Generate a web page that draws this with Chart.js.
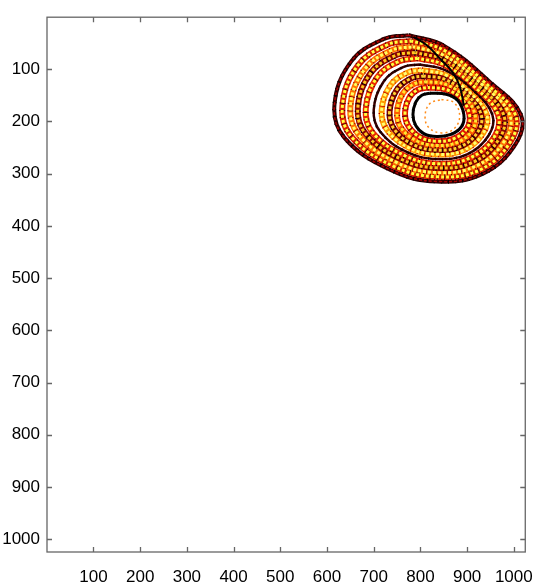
<!DOCTYPE html>
<html>
<head>
<meta charset="utf-8">
<script src="https://cdn.jsdelivr.net/npm/chart.js@4.4.1/dist/chart.umd.min.js"></script>
<style>
html, body { margin: 0; padding: 0; background: #fff; }
#wrap { width: 548px; height: 587px; position: relative; }
</style>
</head>
<body>
<div id="wrap"><canvas id="myChart"></canvas></div>
<script>
var xTicks = [100, 200, 300, 400, 500, 600, 700, 800, 900, 1000];
var yTicks = [100, 200, 300, 400, 500, 600, 700, 800, 900, 1000];

// bands of the attractor, from the ring round the hole out to the edge (x, y in pixels of the image)
var ring0 = [[820,146],[855,148],[880,160],[893,187],[888,210],[865,225],[835,229],[808,224],[790,208],[784,187],[790,163],[803,150]];
var ring1 = [[816,135],[855,139],[887,156],[905,187],[900,213],[872,233],[835,238],[801,231],[775,210],[767,185],[776,155],[795,139]];
var ring2 = [[811,124],[854,129],[894,153],[917,187],[911,217],[879,240],[835,246],[794,238],[759,213],[750,183],[762,147],[787,128]];
var ring3 = [[807,113],[854,120],[900,149],[930,187],[923,220],[886,248],[835,255],[786,245],[744,215],[734,181],[749,140],[779,118]];
var ring4 = [[802,102],[853,111],[907,146],[942,187],[934,223],[893,255],[835,263],[779,252],[729,217],[717,179],[735,132],[771,107]];
var ring5 = [[798,91],[853,102],[914,142],[954,187],[946,227],[900,263],[835,272],[772,259],[714,220],[700,178],[721,124],[763,96]];
var ring6 = [[793,79],[852,92],[921,138],[966,187],[958,230],[906,270],[835,281],[765,265],[698,222],[683,176],[707,116],[754,85]];
var ring7 = [[789,68],[852,83],[928,135],[978,187],[969,233],[913,278],[835,289],[758,272],[683,224],[666,174],[693,108],[746,74]];
var ring8 = [[784,57],[851,74],[934,131],[991,187],[981,236],[920,285],[835,298],[750,279],[668,226],[650,172],[680,101],[738,64]];
var ring9 = [[780,46],[851,64],[941,128],[1003,187],[992,240],[927,293],[835,306],[743,286],[652,229],[633,170],[666,93],[730,53]];
var ring10 = [[775,35],[850,55],[948,124],[1015,187],[1004,243],[934,300],[835,315],[736,293],[637,231],[616,168],[652,85],[722,42]];
var holeRing = [[845,158],[872,164],[884,190],[872,214],[845,222],[818,212],[810,190],[820,166]];
var foldLine = [[785,38],[815,55],[842,80],[870,107],[885,135],[893,170]];

var rings = [ring0, ring1, ring2, ring3, ring4, ring5, ring6, ring7, ring8, ring9, ring10];

// hot colormap look: base colour and width of each band, colours of the speckles on top
var baseColors = ['#000000', '#e01800', '#ff5a00', '#7a0000', '#ff9800', '#400000', '#e82800', '#8b0400', '#ff7000', '#d82000', '#300000'];
var baseWidths = [3, 6, 6, 6, 6, 2.5, 6, 6, 6, 6, 4];
var speckColors = ['#000000', '#ffff40', '#ffe830', '#ffd030', '#ffff70', '#200000', '#ffff40', '#ffc820', '#ffff60', '#ffff40', '#b00000'];
var darkSpecks = ['#000000', '#500000', '#800000', '#000000', '#c00000', '#000000', '#500000', '#000000', '#900000', '#4a0000', '#000000'];

function pts(r, close) {
  var out = r.map(function (p) { return { x: p[0], y: p[1] }; });
  if (close) out.push({ x: r[0][0], y: r[0][1] });
  return out;
}

var datasets = [];
rings.forEach(function (r, i) {
  datasets.push({
    data: pts(r, true),
    borderColor: baseColors[i],
    borderWidth: baseWidths[i],
    order: 4
  });
  datasets.push({
    data: pts(r, true),
    borderColor: darkSpecks[i],
    borderWidth: baseWidths[i],
    borderDash: [1, 6],
    order: 3
  });
  datasets.push({
    data: pts(r, true),
    borderColor: speckColors[i],
    borderWidth: Math.max(1.5, baseWidths[i] - 3),
    borderDash: [3, 2],
    borderDashOffset: 1,
    order: 2
  });
});
datasets.push({
  data: pts(holeRing, true),
  borderColor: '#ff8c1a',
  borderWidth: 1.5,
  borderDash: [2, 3],
  order: 1
});
datasets.push({
  data: pts(foldLine, false),
  borderColor: '#000000',
  borderWidth: 2,
  order: 0
});
datasets.forEach(function (d) {
  d.showLine = true;
  d.pointRadius = 0;
  d.tension = 0.4;
  d.fill = false;
});

// box round the plot with inward ticks on all four sides
var boxTicks = {
  id: 'boxTicks',
  afterDraw: function (chart) {
    var c = chart.ctx, a = chart.chartArea, sx = chart.scales.x, sy = chart.scales.y;
    c.save();
    c.strokeStyle = '#666666';
    c.lineWidth = 1.3;
    c.strokeRect(a.left, a.top, a.right - a.left, a.bottom - a.top);
    c.beginPath();
    xTicks.forEach(function (v) {
      var p = Math.round(sx.getPixelForValue(v)) + 0.5;
      c.moveTo(p, a.bottom); c.lineTo(p, a.bottom - 5);
      c.moveTo(p, a.top); c.lineTo(p, a.top + 5);
    });
    yTicks.forEach(function (v) {
      var p = Math.round(sy.getPixelForValue(v)) + 0.5;
      c.moveTo(a.left, p); c.lineTo(a.left + 5, p);
      c.moveTo(a.right, p); c.lineTo(a.right - 5, p);
    });
    c.stroke();
    c.restore();
  }
};

var tickFont = { family: '"Liberation Sans", Arial, sans-serif', size: 17 };

var myChart = new Chart(document.getElementById('myChart'), {
  type: 'scatter',
  data: { datasets: datasets },
  options: {
    responsive: true,
    maintainAspectRatio: false,
    animation: false,
    layout: { padding: { top: 7, right: 11, left: 0, bottom: 0 } },
    plugins: { legend: { display: false }, tooltip: { enabled: false } },
    scales: {
      x: {
        type: 'linear',
        min: 0.5,
        max: 1024.5,
        grid: { display: false, drawTicks: false },
        border: { display: false },
        ticks: {
          color: '#000000',
          font: tickFont,
          padding: 15,
          maxRotation: 0,
          autoSkip: false,
          callback: function (v) { return String(v); }
        },
        afterBuildTicks: function (s) { s.ticks = xTicks.map(function (v) { return { value: v }; }); },
        afterFit: function (s) { s.height = 35; }
      },
      y: {
        type: 'linear',
        reverse: true,
        min: 0.5,
        max: 1024.5,
        grid: { display: false, drawTicks: false },
        border: { display: false },
        ticks: {
          color: '#000000',
          font: tickFont,
          padding: 7,
          autoSkip: false,
          callback: function (v) { return String(v); }
        },
        afterBuildTicks: function (s) { s.ticks = yTicks.map(function (v) { return { value: v }; }); },
        afterFit: function (s) { s.width = 47; }
      }
    }
  },
  plugins: [boxTicks]
});
</script>
</body>
</html>
